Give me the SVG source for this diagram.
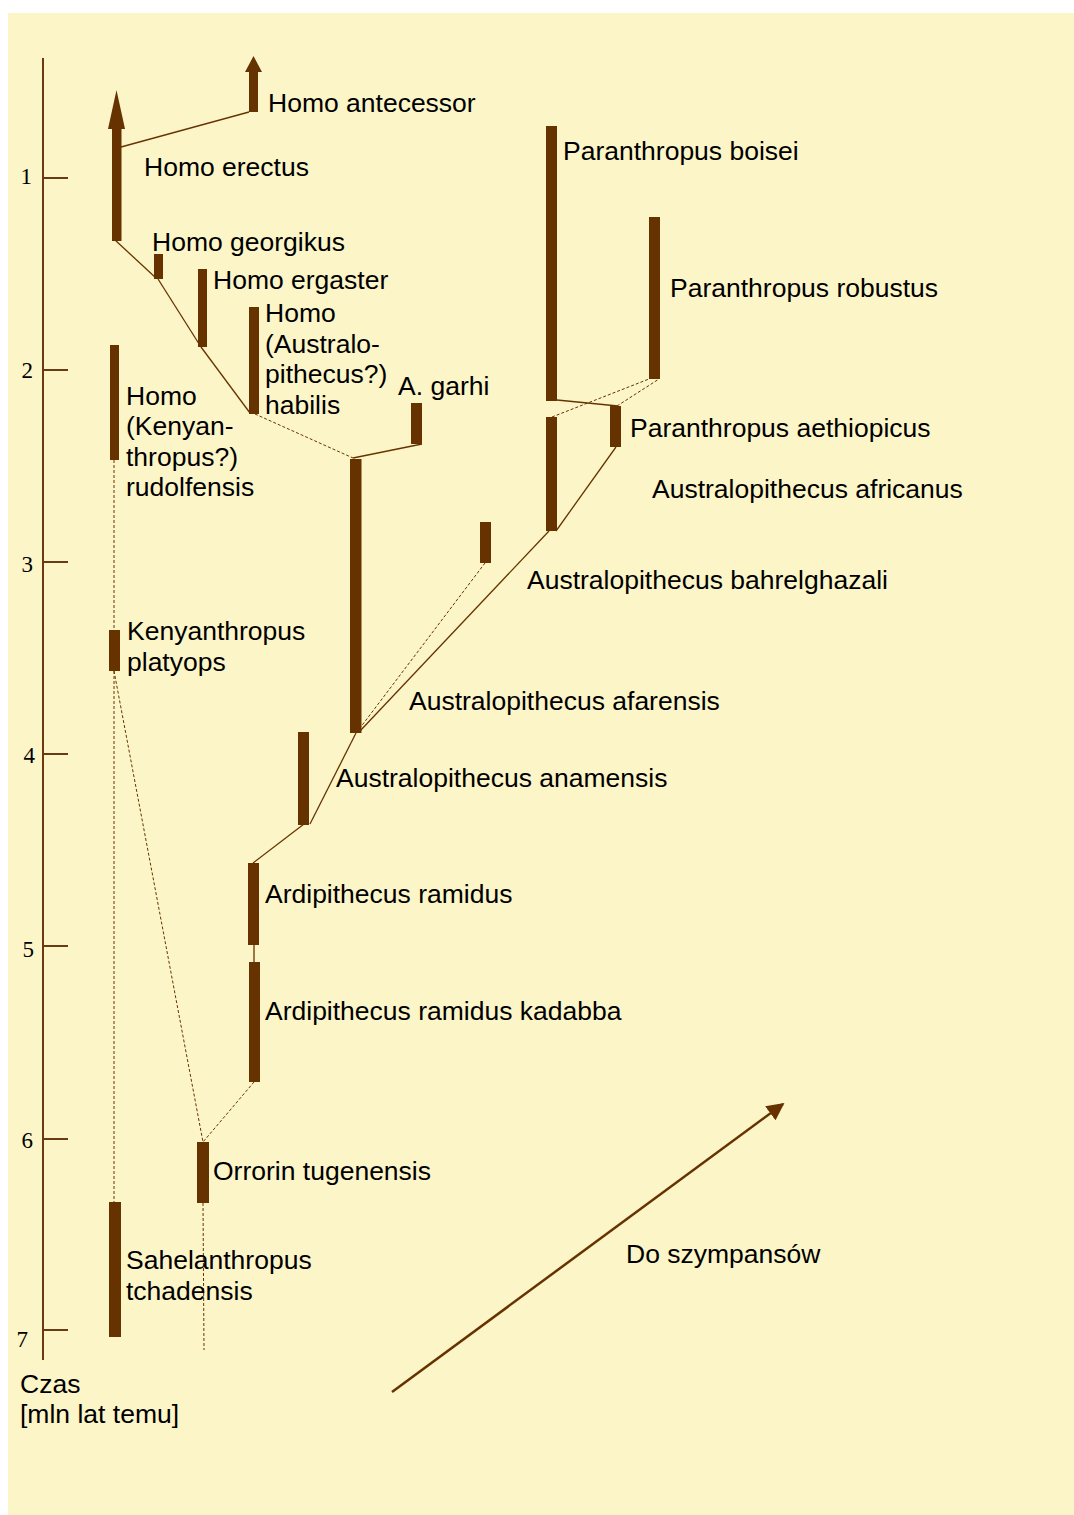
<svg xmlns="http://www.w3.org/2000/svg" width="1074" height="1515" viewBox="0 0 1074 1515">
<style>
.bg{fill:#FCF5C8}
.bar{fill:#663300}
.axis{stroke:#6B3A12;stroke-width:2;fill:none}
.tick{stroke:#6B3A12;stroke-width:2}
.num{font-family:"Liberation Serif",serif;font-size:23px;fill:#000;text-anchor:end}
.lbl{font-family:"Liberation Sans",Arial,sans-serif;font-size:26.5px;fill:#000}
.c{stroke:#663300;stroke-width:1.3;fill:none}
.d{stroke:#663300;stroke-width:1;fill:none;stroke-dasharray:3 2}
.big{stroke:#663300;stroke-width:2.5;fill:none}
</style>
<defs>
<marker id="ah" viewBox="0 0 10 10" refX="9" refY="5" markerWidth="7" markerHeight="7" markerUnits="strokeWidth" orient="auto">
<path d="M0,0 L10,5 L0,10 z" fill="#663300"/>
</marker>
</defs>
<rect class="bg" x="8" y="13" width="1066" height="1502"/>
<g id="axis">
<line class="axis" x1="43" y1="58" x2="43" y2="1360"/>
<line class="tick" x1="43" y1="178" x2="68" y2="178"/>
<line class="tick" x1="43" y1="370" x2="68" y2="370"/>
<line class="tick" x1="43" y1="562" x2="68" y2="562"/>
<line class="tick" x1="43" y1="754" x2="68" y2="754"/>
<line class="tick" x1="43" y1="946" x2="68" y2="946"/>
<line class="tick" x1="43" y1="1139" x2="68" y2="1139"/>
<line class="tick" x1="43" y1="1330" x2="68" y2="1330"/>
<text class="num" x="32" y="184">1</text>
<text class="num" x="33" y="378">2</text>
<text class="num" x="33" y="572">3</text>
<text class="num" x="35" y="763">4</text>
<text class="num" x="34" y="957">5</text>
<text class="num" x="33" y="1148">6</text>
<text class="num" x="28" y="1347">7</text>
<text class="lbl" x="20" y="1393">Czas</text>
<text class="lbl" x="20" y="1423">[mln lat temu]</text>
</g>
<g id="connectors">
<line class="c" x1="121" y1="147" x2="249" y2="112"/>
<line class="c" x1="115" y1="240" x2="156" y2="278"/>
<line class="c" x1="158" y1="279" x2="201" y2="347"/>
<line class="c" x1="201" y1="347" x2="250" y2="413"/>
<line class="d" x1="255" y1="414" x2="353" y2="458"/>
<line class="c" x1="353" y1="458" x2="422" y2="444"/>
<line class="d" x1="485" y1="563" x2="360" y2="728"/>
<line class="c" x1="360" y1="731" x2="549" y2="531"/>
<line class="c" x1="556" y1="531" x2="616" y2="447"/>
<line class="c" x1="557" y1="400" x2="618" y2="406"/>
<line class="d" x1="552" y1="417" x2="649" y2="379"/>
<line class="d" x1="617" y1="406" x2="659" y2="379"/>
<line class="c" x1="310" y1="824" x2="356" y2="733"/>
<line class="c" x1="253" y1="863" x2="304" y2="824"/>
<line class="c" x1="254" y1="945" x2="254" y2="963"/>
<line class="d" x1="254" y1="1082" x2="203" y2="1142"/>
<line class="d" x1="203" y1="1203" x2="204" y2="1350"/>
<line class="d" x1="114" y1="671" x2="203" y2="1142"/>
<line class="d" x1="114" y1="460" x2="114" y2="630"/>
<line class="d" x1="114" y1="671" x2="114" y2="1202"/>
<line class="big" x1="392" y1="1392" x2="783" y2="1104" marker-end="url(#ah)"/>
</g>
<g id="homo-erectus">
<rect class="bar" x="112" y="127" width="9.5" height="114"/>
<path class="bar" d="M116.5,90 L125,129 L108,129 Z"/>
<text class="lbl" x="144" y="176">Homo erectus</text>
</g>
<g id="homo-antecessor">
<rect class="bar" x="249" y="70" width="9" height="42"/>
<path class="bar" d="M253.5,56 L262,72 L245,72 Z"/>
<text class="lbl" x="268" y="112">Homo antecessor</text>
</g>
<g id="homo-georgikus">
<rect class="bar" x="154" y="254" width="9" height="25"/>
<text class="lbl" x="152" y="251">Homo georgikus</text>
</g>
<g id="homo-ergaster">
<rect class="bar" x="198" y="269" width="9" height="78"/>
<text class="lbl" x="213" y="289">Homo ergaster</text>
</g>
<g id="homo-habilis">
<rect class="bar" x="249" y="307" width="10" height="107"/>
<text class="lbl" x="265" y="322">Homo</text>
<text class="lbl" x="265" y="353">(Australo-</text>
<text class="lbl" x="265" y="383">pithecus?)</text>
<text class="lbl" x="265" y="414">habilis</text>
</g>
<g id="homo-rudolfensis">
<rect class="bar" x="110" y="345" width="9" height="115"/>
<text class="lbl" x="126" y="405">Homo</text>
<text class="lbl" x="126" y="435">(Kenyan-</text>
<text class="lbl" x="126" y="466">thropus?)</text>
<text class="lbl" x="126" y="496">rudolfensis</text>
</g>
<g id="a-garhi">
<rect class="bar" x="411" y="403" width="11" height="41"/>
<text class="lbl" x="398" y="395">A. garhi</text>
</g>
<g id="paranthropus-boisei">
<rect class="bar" x="546" y="126" width="11" height="275"/>
<text class="lbl" x="563" y="160">Paranthropus boisei</text>
</g>
<g id="paranthropus-robustus">
<rect class="bar" x="649" y="217" width="11" height="162"/>
<text class="lbl" x="670" y="297">Paranthropus robustus</text>
</g>
<g id="paranthropus-aethiopicus">
<rect class="bar" x="610" y="406" width="11" height="41"/>
<text class="lbl" x="630" y="437">Paranthropus aethiopicus</text>
</g>
<g id="australopithecus-africanus">
<rect class="bar" x="546" y="417" width="11" height="114"/>
<text class="lbl" x="652" y="498">Australopithecus africanus</text>
</g>
<g id="australopithecus-bahrelghazali">
<rect class="bar" x="480" y="522" width="11" height="41"/>
<text class="lbl" x="527" y="589">Australopithecus bahrelghazali</text>
</g>
<g id="australopithecus-afarensis">
<rect class="bar" x="350" y="459" width="11.5" height="274"/>
<text class="lbl" x="409" y="710">Australopithecus afarensis</text>
</g>
<g id="kenyanthropus-platyops">
<rect class="bar" x="109" y="630" width="11" height="41"/>
<text class="lbl" x="127" y="640">Kenyanthropus</text>
<text class="lbl" x="127" y="671">platyops</text>
</g>
<g id="australopithecus-anamensis">
<rect class="bar" x="298" y="732" width="11" height="93"/>
<text class="lbl" x="336" y="787">Australopithecus anamensis</text>
</g>
<g id="ardipithecus-ramidus">
<rect class="bar" x="248" y="863" width="11" height="82"/>
<text class="lbl" x="265" y="903">Ardipithecus ramidus</text>
</g>
<g id="ardipithecus-ramidus-kadabba">
<rect class="bar" x="249" y="962" width="11" height="120"/>
<text class="lbl" x="265" y="1020">Ardipithecus ramidus kadabba</text>
</g>
<g id="orrorin-tugenensis">
<rect class="bar" x="197" y="1142" width="12" height="61"/>
<text class="lbl" x="213" y="1180">Orrorin tugenensis</text>
</g>
<g id="sahelanthropus-tchadensis">
<rect class="bar" x="109" y="1202" width="12" height="135"/>
<text class="lbl" x="126" y="1269">Sahelanthropus</text>
<text class="lbl" x="126" y="1300">tchadensis</text>
</g>
<g id="do-szympansow">
<text class="lbl" x="626" y="1263">Do szympansów</text>
</g>
</svg>
